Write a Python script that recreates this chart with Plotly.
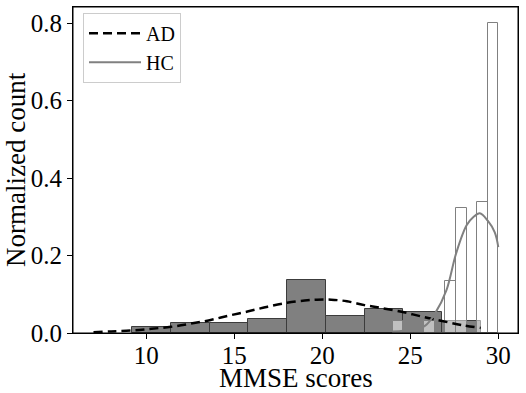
import plotly.graph_objects as go

# ---- data ----
ad_edges = [9.2, 11.4, 13.6, 15.8, 18.0, 20.2, 22.4, 24.6, 26.8, 29.0]
ad_density = [0.016, 0.026, 0.026, 0.037, 0.137, 0.044, 0.0625, 0.0555, 0.0315]

hc_edges = [24.0, 24.6, 25.2, 25.8, 26.4, 27.0, 27.6, 28.2, 28.8, 29.4, 30.0]
hc_density = [0.0315, 0.0, 0.0, 0.0315, 0.0, 0.134, 0.323, 0.0, 0.339, 0.801]

ad_kde_x = [7.0, 8.0, 9.2, 10.3, 11.4, 12.5, 13.6, 14.7, 15.8, 16.9, 18.0, 19.0,
            19.7, 20.5, 21.4, 22.4, 23.3, 24.5, 25.6, 26.8, 28.0, 29.0]
ad_kde_y = [0.002, 0.004, 0.0065, 0.011, 0.016, 0.024, 0.033, 0.045, 0.056, 0.068,
            0.078, 0.084, 0.086, 0.086, 0.082, 0.072, 0.065, 0.055, 0.043, 0.031,
            0.02, 0.013]

hc_kde_x = [24.0, 24.6, 25.2, 25.85, 26.4, 27.05, 27.6, 28.2, 28.6, 28.95, 29.4, 29.8, 30.0]
hc_kde_y = [0.004, 0.006, 0.01, 0.019, 0.05, 0.11, 0.205, 0.278, 0.300, 0.309,
            0.29, 0.26, 0.222]

x_ticks = [10, 15, 20, 25, 30]
y_ticks = [0.0, 0.2, 0.4, 0.6, 0.8]

x_title = "MMSE scores"
y_title = "Normalized count"

FONT = "Liberation Serif"


def centers(edges):
    return [(a + b) / 2 for a, b in zip(edges[:-1], edges[1:])]


def widths(edges):
    return [b - a for a, b in zip(edges[:-1], edges[1:])]


fig = go.Figure()

fig.add_trace(go.Bar(
    x=centers(ad_edges), y=ad_density, width=widths(ad_edges),
    marker=dict(color="#808080", line=dict(color="#3c3c3c", width=1)),
    showlegend=False, hoverinfo="skip"))

fig.add_trace(go.Bar(
    x=centers(hc_edges), y=hc_density, width=widths(hc_edges),
    marker=dict(color="rgba(255,255,255,0.5)", line=dict(color="#808080", width=1)),
    showlegend=False, hoverinfo="skip"))

fig.add_trace(go.Scatter(
    x=ad_kde_x, y=ad_kde_y, mode="lines", name="AD",
    line=dict(color="black", width=2.5, dash="9px,5px", shape="spline", smoothing=1)))

fig.add_trace(go.Scatter(
    x=hc_kde_x, y=hc_kde_y, mode="lines", name="HC",
    line=dict(color="#808080", width=2, shape="spline", smoothing=1)))

axis_common = dict(
    showline=True, linecolor="black", linewidth=1, mirror=True, automargin=False,
    ticks="outside", ticklen=5, tickcolor="black", showgrid=False, zeroline=False,
    tickfont=dict(family=FONT, size=25, color="black"))

fig.update_xaxes(range=[5.835, 31.12], tickvals=x_ticks,
                 ticktext=[str(t) for t in x_ticks], ticklabelstandoff=-5,
                 **axis_common)
fig.update_yaxes(range=[0, 0.842], tickvals=y_ticks,
                 ticktext=[f"{t:.1f}" for t in y_ticks], **axis_common)

# axes frame (all four sides)
fig.add_shape(type="rect", xref="paper", yref="paper", x0=0, y0=0, x1=1, y1=1,
              line=dict(color="black", width=1), fillcolor="rgba(0,0,0,0)",
              layer="above")

fig.add_annotation(text=x_title, xref="paper", yref="paper", x=0.5, y=0,
                   xanchor="center", yanchor="top", yshift=-28, showarrow=False,
                   font=dict(family=FONT, size=27, color="black"))
fig.add_annotation(text=y_title, xref="paper", yref="paper", x=0, y=0.5,
                   xanchor="center", yanchor="middle", xshift=-57, textangle=-90,
                   showarrow=False, font=dict(family=FONT, size=27, color="black"))

fig.update_layout(
    width=526, height=393,
    margin=dict(l=73, r=8, t=7, b=60, autoexpand=False),
    paper_bgcolor="white", plot_bgcolor="white",
    barmode="overlay", bargap=0,
    legend=dict(x=0.0225, y=0.982, xanchor="left", yanchor="top",
                bgcolor="white", bordercolor="#cccccc", borderwidth=1,
                font=dict(family=FONT, size=20, color="black"),
                itemwidth=52, tracegroupgap=0),
    font=dict(family=FONT, color="black"),
)

fig.write_html("out.html", config={"displayModeBar": False},
               post_script="document.body.style.margin='0';document.body.style.overflow='hidden';")
